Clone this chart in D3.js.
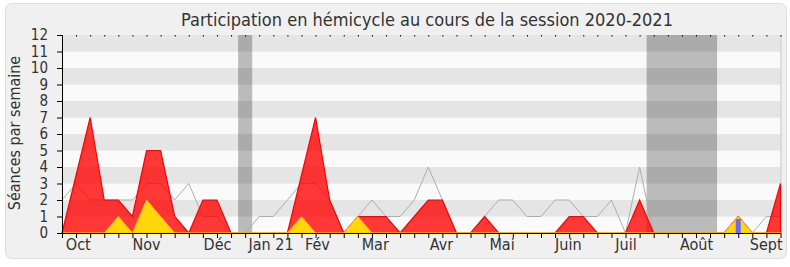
<!DOCTYPE html>
<html>
<head>
<meta charset="utf-8">
<script src="https://cdn.jsdelivr.net/npm/d3@7"></script>
<style>
  body { margin: 0; background: #fff; }
  text { font-family: "DejaVu Sans", sans-serif; font-stretch: condensed; fill: #333; }
</style>
</head>
<body>
<div id="chart"></div>
<script>
// Weekly data, week 0 = first week of the session
const presence = [0, 3.5, 7, 2, 2, 1, 5, 5, 1, 0, 2, 2, 0, 0, 0, 0, 0, 3.5, 7, 2, 0, 1, 1, 1, 0, 1,
  2, 2, 0, 0, 1, 0, 0, 0, 0, 0, 1, 1, 0, 0, 0, 2, 0, 0, 0, 0, 0, 0, 1, 0, 0, 3];
const mediane = [2, 3, 2, 2, 2, 2, 3, 3, 2, 3, 1, 1, 0, 0, 1, 1, 2, 3, 3, 2, 0, 1, 2, 1, 1, 2,
  4, 2, 0, 0, 1, 2, 2, 1, 1, 2, 2, 1, 1, 2, 0, 4, 0, 0, 0, 0, 0, 0, 0, 0, 1, 1];
const interventions = [0, 0, 0, 0, 1, 0, 2, 1, 0, 0, 0, 0, 0, 0, 0, 0, 0, 1, 0, 0, 0, 1, 0, 0, 0, 0,
  0, 0, 0, 0, 0, 0, 0, 0, 0, 0, 0, 0, 0, 0, 0, 0, 0, 0, 0, 0, 0, 0, 1, 0, 0, 0];
const questions = [{ week: 48, value: 1 }];

// vacations (in week units)
const vacances = [[12.5, 13.5], [41.5, 46.5]];

// month labels and their position in weeks
const mois = ["Oct", "Nov", "Déc", "Jan 21", "Fév", "Mar", "Avr", "Mai", "Juin", "Juil", "Août", "Sept"];
const moisPos = [1.12, 5.96, 11.0, 14.8, 18.1, 22.2, 26.9, 31.2, 35.9, 40.0, 45.0, 49.95];

const yTicks = d3.range(0, 13);

const width = 790, height = 267;
const mLeft = 62, mRight = 780.5, mTop = 35, mBottom = 233;

const svg = d3.select("#chart").append("svg")
  .attr("width", width)
  .attr("height", height);

// frame
svg.append("rect")
  .attr("x", 5.5).attr("y", 3.5)
  .attr("width", 781).attr("height", 255)
  .attr("rx", 6)
  .attr("fill", "#f0f0f0")
  .attr("stroke", "#dedede");

const x = d3.scaleLinear().domain([0, presence.length - 1]).range([mLeft, mRight]);
const y = d3.scaleLinear().domain([0, 12]).range([mBottom, mTop]);

// stripes
svg.selectAll(".stripe")
  .data(d3.range(0, 12))
  .enter().append("rect")
  .attr("x", mLeft).attr("width", mRight - mLeft)
  .attr("y", d => y(d + 1))
  .attr("height", d => y(d) - y(d + 1))
  .attr("fill", d => d % 2 ? "#e5e5e5" : "#fafafa");

// right border
svg.append("line")
  .attr("x1", mRight + 0.5).attr("x2", mRight + 0.5)
  .attr("y1", mTop).attr("y2", mBottom)
  .attr("stroke", "#c8c8c8");

// vacations
svg.selectAll(".vac")
  .data(vacances)
  .enter().append("rect")
  .attr("x", d => x(d[0]))
  .attr("width", d => x(d[1]) - x(d[0]))
  .attr("y", mTop).attr("height", mBottom - mTop)
  .attr("fill", "rgba(0,0,0,0.25)");

const weeks = d3.range(presence.length);

// median line
svg.append("path")
  .datum(weeks)
  .attr("fill", "none")
  .attr("stroke", "#adadad")
  .attr("stroke-width", 1)
  .attr("d", d3.line().x(d => x(d)).y(d => y(mediane[d])));

// presence area
svg.append("path")
  .datum(weeks)
  .attr("fill", "rgba(255,0,0,0.78)")
  .attr("stroke", "#ff0000")
  .attr("stroke-width", 1.2)
  .attr("d", d3.area().x(d => x(d)).y0(y(0)).y1(d => y(presence[d])));

// interventions area
svg.append("path")
  .datum(weeks)
  .attr("fill", "#ffd70a")
  .attr("stroke", "#f7c600")
  .attr("stroke-width", 1)
  .attr("d", d3.area().x(d => x(d)).y0(y(0)).y1(d => y(interventions[d])));

// questions orales
svg.selectAll(".q")
  .data(questions)
  .enter().append("rect")
  .attr("x", d => x(d.week) - 2.5)
  .attr("width", 5)
  .attr("y", d => y(d.value * 0.85))
  .attr("height", d => y(0) - y(d.value * 0.85))
  .attr("fill", "#6a6aff");

// axes
const yAxis = svg.append("g")
  .attr("transform", `translate(${mLeft},0)`)
  .call(d3.axisLeft(y).tickValues(yTicks).tickSize(5).tickPadding(9));
yAxis.selectAll("text").style("font-size", "15px");

const xAxis = svg.append("g")
  .attr("transform", `translate(0,${mBottom})`)
  .call(d3.axisBottom(x).tickValues(weeks).tickSize(5).tickFormat(""));
xAxis.select(".domain").attr("d", `M${mLeft},0.5H${mRight}`);

const mAxis = svg.append("g")
  .attr("transform", `translate(0,${mBottom})`)
  .call(d3.axisBottom(x).tickValues(moisPos).tickSize(0).tickPadding(6)
    .tickFormat((d, i) => mois[i]));
mAxis.select(".domain").remove();
mAxis.selectAll("text").style("font-size", "16px");

// dotted top
const tAxis = svg.append("g")
  .attr("transform", `translate(0,${mTop})`)
  .call(d3.axisTop(x).tickValues(weeks).tickSize(-1.5).tickFormat(""));
tAxis.select(".domain").remove();

svg.selectAll(".domain, .tick line").attr("stroke", "#000");

// titles
svg.append("text")
  .attr("x", 427).attr("y", 26)
  .attr("text-anchor", "middle")
  .style("font-size", "18px")
  .text("Participation en hémicycle au cours de la session 2020-2021");

svg.append("text")
  .attr("transform", "rotate(-90)")
  .attr("x", -133).attr("y", 20)
  .attr("text-anchor", "middle")
  .style("font-size", "16px")
  .text("Séances par semaine");
</script>
</body>
</html>
